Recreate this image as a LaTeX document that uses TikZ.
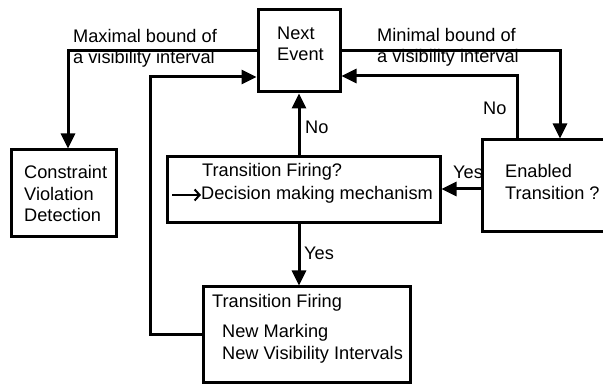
\documentclass[tikz,border=0pt]{standalone}
\usepackage{fontspec}
\setmainfont{Liberation Sans}
\usetikzlibrary{arrows.meta, positioning, calc}

\begin{document}
\begin{tikzpicture}[
    x=1pt, y=1pt,
    >={Triangle[length=15pt, width=14pt]},
    box/.style={draw, line width=3pt, inner sep=0pt},
    txt/.style={inner sep=0pt, align=left, anchor=west,
                font=\fontsize{18.2}{21.5}\selectfont},
    flow/.style={->, line width=3pt},
    pointer/.style={-{Straight Barb[length=5pt, width=11pt]}, line width=2pt},
]
\useasboundingbox (0,0) rectangle (603,385);

% --- Boxes ---
\node[box, minimum width=82, minimum height=82] (next) at (299,334) {};
\node[box, minimum width=105, minimum height=87] (cvd) at (63.5,191.5) {};
\node[box, minimum width=273, minimum height=66] (fire_q) at (303.5,195) {};
\node[box, minimum width=156, minimum height=92] (enabled) at (560,199) {};
\node[box, minimum width=207, minimum height=96] (fire) at (306.5,50) {};

% --- Box texts ---
\node[txt] (next_t) at (277,341) {Next\\Event};
\node[txt] (cvd_t) at (24,191.5) {Constraint\\Violation\\Detection};
\node[txt] (fire_q_t1) at (202,213) {Transition Firing?};
\node[txt] (fire_q_t2) at (201,190) {Decision making mechanism};
\coordinate (dm_start) at (172,190);
\node[txt] (enabled_t) at (505,203) {Enabled\\Transition ?};
\node[txt] (fire_t1) at (212,82) {Transition Firing};
\node[txt] (fire_t2) at (222,41) {New Marking\\New Visibility Intervals};

% --- Edge labels ---
\node[txt] (max_lbl) at (73,336.5) {Maximal bound of\\a visibility interval};
\node[txt] (min_lbl) at (377,337.5) {Minimal bound of\\a visibility interval};
\node[txt] (no_up) at (305,258) {No};
\node[txt] (yes_down) at (304,132) {Yes};
\node[txt] (no_right) at (483,277) {No};
\node[txt] (yes_left) at (453,213) {Yes};

% --- Connectors ---
\coordinate (loop_l) at (150,308);
\draw[flow] (next.west) -| ([xshift=4.5]cvd.north);
\draw[flow] (next.east) -| (enabled.north);
\draw[flow] ([xshift=-43]enabled.north) |- ([yshift=-25]next.east);
\draw[flow] (fire.west) -| (loop_l) -- (loop_l -| next.west);
\draw[flow] (next.south |- fire_q.north) -- (next.south);
\draw[flow] (next.south |- fire_q.south) -- (next.south |- fire.north);
\draw[flow] ([yshift=-3]enabled.west) -- ([yshift=-3]enabled.west -| fire_q.east);
\draw[pointer] (dm_start) -- (fire_q_t2.west);

\end{tikzpicture}
\end{document}
